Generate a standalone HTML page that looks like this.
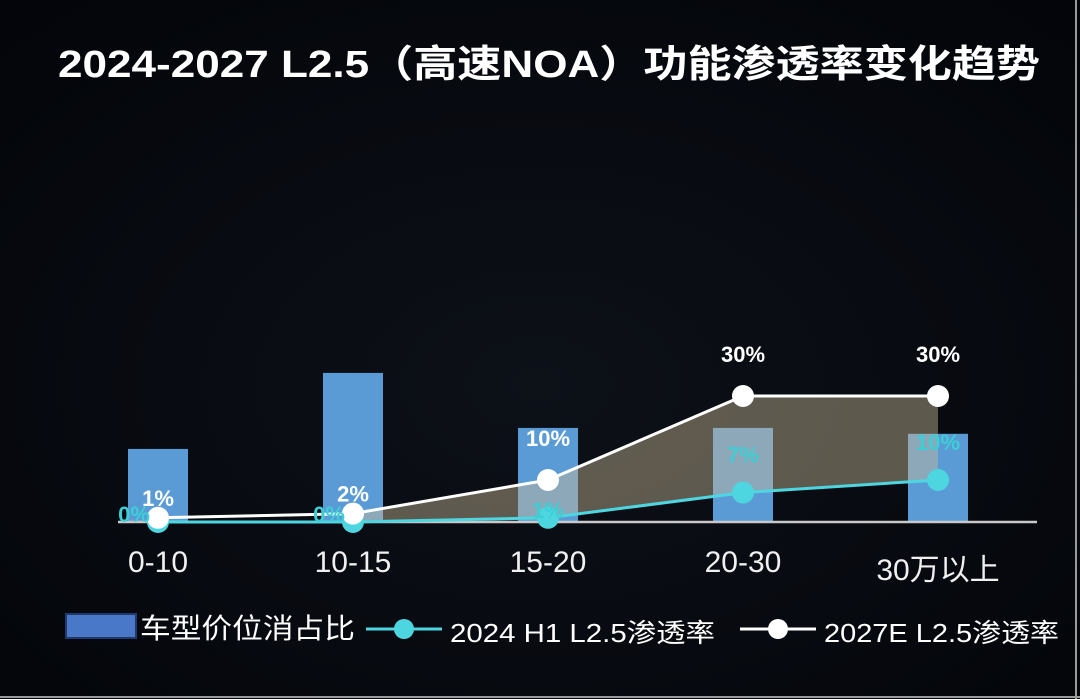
<!DOCTYPE html>
<html><head><meta charset="utf-8">
<style>
html,body{margin:0;padding:0;background:#05070c;}
svg{display:block;}
text{font-family:"Liberation Sans","Noto Sans CJK SC",sans-serif;}
</style></head>
<body>
<svg id="chart" width="1080" height="699" viewBox="0 0 1080 699" xmlns="http://www.w3.org/2000/svg">
<defs>
<radialGradient id="bg" cx="50%" cy="55%" r="70%">
<stop offset="0" stop-color="#0d1118"/><stop offset="1" stop-color="#03050a"/>
</radialGradient>
</defs>
<rect x="0" y="0" width="1080" height="699" fill="url(#bg)"/>
<line x1="1076" y1="0" x2="1076" y2="699" stroke="#9a9a9a" stroke-width="2"/>
<line x1="0" y1="697" x2="1080" y2="697" stroke="#9a9a9a" stroke-width="2"/>
<text x="549" y="77" text-anchor="middle" font-size="38" font-weight="bold" fill="#ffffff" textLength="982" lengthAdjust="spacingAndGlyphs">2024-2027 L2.5（高速NOA）功能渗透率变化趋势</text>
<g id="bars"></g>
<g id="area"></g>
<line x1="118" y1="522" x2="1037" y2="522" stroke="#c8c8c8" stroke-width="2.5"/>
<g id="lines"></g>
<g id="xlabels"></g>
<g>
<rect x="66" y="614" width="70" height="24" fill="#4a78c8" stroke="#1f3a6a" stroke-width="2"/>
<text x="140" y="638" font-size="28" fill="#ffffff" textLength="215" lengthAdjust="spacingAndGlyphs">车型价位消占比</text>
<line x1="366" y1="629" x2="442" y2="629" stroke="#4dd6e0" stroke-width="3"/>
<circle cx="404" cy="629" r="10" fill="#4dd6e0"/>
<text x="450" y="642" font-size="26" fill="#ffffff" textLength="265" lengthAdjust="spacingAndGlyphs">2024 H1 L2.5渗透率</text>
<line x1="740" y1="629" x2="816" y2="629" stroke="#ffffff" stroke-width="3"/>
<circle cx="778" cy="629" r="10" fill="#ffffff"/>
<text x="824" y="642" font-size="26" fill="#ffffff" textLength="235" lengthAdjust="spacingAndGlyphs">2027E L2.5渗透率</text>
</g>
</svg>
<script>
const categories = ["0-10","10-15","15-20","20-30","30万以上"];
const barShare = [17.4, 35.5, 22.4, 22.4, 21];
const pen2024 = [0, 0, 1, 7, 10];
const pen2027 = [1, 2, 10, 30, 30];
const labels2024 = ["0%","0%","1%","7%","10%"];
const labels2027 = ["1%","2%","10%","30%","30%"];

const NS="http://www.w3.org/2000/svg";
const x0=158, step=195, baseY=522, pxPer=4.2;
function xs(i){return x0+i*step;}
function ys(v){return baseY-v*pxPer;}
function mk(tag,attrs,parent){const e=document.createElementNS(NS,tag);for(const k in attrs)e.setAttribute(k,attrs[k]);parent.appendChild(e);return e;}

const gb=document.getElementById('bars');
barShare.forEach((v,i)=>{
  const r=mk('rect',{x:xs(i)-30,y:ys(v),width:60,height:baseY-ys(v),fill:'#5b9bd5'},gb);
  
  
});
const ga=document.getElementById('area');
let pts=[];
for(let i=1;i<pen2027.length;i++)pts.push(xs(i)+','+ys(pen2027[i]));
for(let i=pen2024.length-1;i>=1;i--)pts.push(xs(i)+','+ys(pen2024[i]));
const poly=mk('polygon',{points:pts.join(' '),fill:'rgba(200,185,150,0.45)'},ga);



const gl=document.getElementById('lines');
function series(vals,color,name){
  const p=mk('polyline',{points:vals.map((v,i)=>xs(i)+','+ys(v)).join(' '),fill:'none',stroke:color,'stroke-width':3},gl);
  
  
  vals.forEach((v,i)=>{
    const c=mk('circle',{cx:xs(i),cy:ys(v),r:11,fill:color},gl);
    
    
  });
}
series(pen2024,'#4dd6e0','line-2024');
series(pen2027,'#ffffff','line-2027');

pen2024.forEach((v,i)=>{
  const off = v>=5?-38:-8;
  const dx = v===0?-24:0;
  const t=mk('text',{x:xs(i)+dx,y:ys(v)+off+8,'text-anchor':'middle','font-size':22,'font-weight':'bold',fill:'#3ccfd6'},gl);
  t.textContent=labels2024[i];
  
  
});
pen2027.forEach((v,i)=>{
  const off = v>=10?-42:-20;
  const t=mk('text',{x:xs(i),y:ys(v)+off+8,'text-anchor':'middle','font-size':22,'font-weight':'bold',fill:'#ffffff'},gl);
  t.textContent=labels2027[i];
  
  
});
const gx=document.getElementById('xlabels');
categories.forEach((c,i)=>{
  const t=mk('text',{x:xs(i),y:i===4?580:572,'text-anchor':'middle','font-size':30,fill:'#f0f0f0'},gx);
  t.textContent=c;
  
  
});
</script>
</body></html>
